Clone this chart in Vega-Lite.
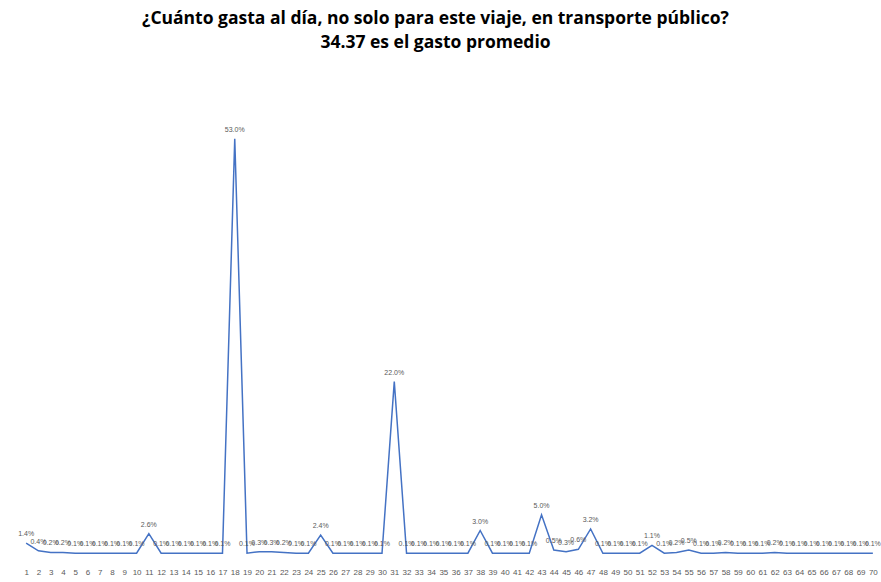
{
  "$schema": "https://vega.github.io/schema/vega-lite/v6.json",
  "autosize": "none",
  "width": 859,
  "height": 470,
  "padding": {"left": 20, "top": 84, "right": 2, "bottom": 28},
  "background": "white",
  "config": {"view": {"stroke": null}, "font": "Open Sans"},
  "title": {
    "text": ["¿Cuánto gasta al día, no solo para este viaje, en transporte público?", "34.37 es el gasto promedio"],
    "font": "Open Sans",
    "fontSize": 17.5,
    "fontWeight": "bold",
    "color": "#000000",
    "anchor": "middle",
    "dx": -14,
    "offset": 33,
    "lineHeight": 24
  },
  "data": {
    "values": [
      {"x": 1, "v": 0.014}, {"x": 2, "v": 0.004}, {"x": 3, "v": 0.002}, {"x": 4, "v": 0.002}, {"x": 5, "v": 0.001},
      {"x": 6, "v": 0.001}, {"x": 7, "v": 0.001}, {"x": 8, "v": 0.001}, {"x": 9, "v": 0.001}, {"x": 10, "v": 0.001},
      {"x": 11, "v": 0.026}, {"x": 12, "v": 0.001}, {"x": 13, "v": 0.001}, {"x": 14, "v": 0.001}, {"x": 15, "v": 0.001},
      {"x": 16, "v": 0.001}, {"x": 17, "v": 0.001}, {"x": 18, "v": 0.53}, {"x": 19, "v": 0.001}, {"x": 20, "v": 0.003},
      {"x": 21, "v": 0.003}, {"x": 22, "v": 0.002}, {"x": 23, "v": 0.001}, {"x": 24, "v": 0.001}, {"x": 25, "v": 0.024},
      {"x": 26, "v": 0.001}, {"x": 27, "v": 0.001}, {"x": 28, "v": 0.001}, {"x": 29, "v": 0.001}, {"x": 30, "v": 0.001},
      {"x": 31, "v": 0.22}, {"x": 32, "v": 0.001}, {"x": 33, "v": 0.001}, {"x": 34, "v": 0.001}, {"x": 35, "v": 0.001},
      {"x": 36, "v": 0.001}, {"x": 37, "v": 0.001}, {"x": 38, "v": 0.03}, {"x": 39, "v": 0.001}, {"x": 40, "v": 0.001},
      {"x": 41, "v": 0.001}, {"x": 42, "v": 0.001}, {"x": 43, "v": 0.05}, {"x": 44, "v": 0.005}, {"x": 45, "v": 0.003},
      {"x": 46, "v": 0.006}, {"x": 47, "v": 0.032}, {"x": 48, "v": 0.001}, {"x": 49, "v": 0.001}, {"x": 50, "v": 0.001},
      {"x": 51, "v": 0.001}, {"x": 52, "v": 0.011}, {"x": 53, "v": 0.001}, {"x": 54, "v": 0.002}, {"x": 55, "v": 0.005},
      {"x": 56, "v": 0.001}, {"x": 57, "v": 0.001}, {"x": 58, "v": 0.002}, {"x": 59, "v": 0.001}, {"x": 60, "v": 0.001},
      {"x": 61, "v": 0.001}, {"x": 62, "v": 0.002}, {"x": 63, "v": 0.001}, {"x": 64, "v": 0.001}, {"x": 65, "v": 0.001},
      {"x": 66, "v": 0.001}, {"x": 67, "v": 0.001}, {"x": 68, "v": 0.001}, {"x": 69, "v": 0.001}, {"x": 70, "v": 0.001}
    ]
  },
  "encoding": {
    "x": {
      "field": "x",
      "type": "ordinal",
      "sort": null,
      "scale": {"type": "point", "padding": 0.5},
      "axis": {
        "title": null,
        "labelAngle": 0,
        "labelFontSize": 8,
        "labelColor": "#595959",
        "labelFont": "Liberation Sans",
        "domain": false,
        "ticks": false,
        "labelPadding": 14,
        "labelOverlap": false
      }
    },
    "y": {
      "field": "v",
      "type": "quantitative",
      "scale": {"domain": [0, 0.6], "nice": false},
      "axis": null
    }
  },
  "layer": [
    {"mark": {"type": "line", "color": "#4472C4", "strokeWidth": 1.5}},
    {
      "mark": {"type": "text", "dy": -9, "fontSize": 7, "color": "#595959", "font": "Liberation Sans"},
      "encoding": {"text": {"field": "v", "type": "quantitative", "format": ".1%"}}
    }
  ]
}
